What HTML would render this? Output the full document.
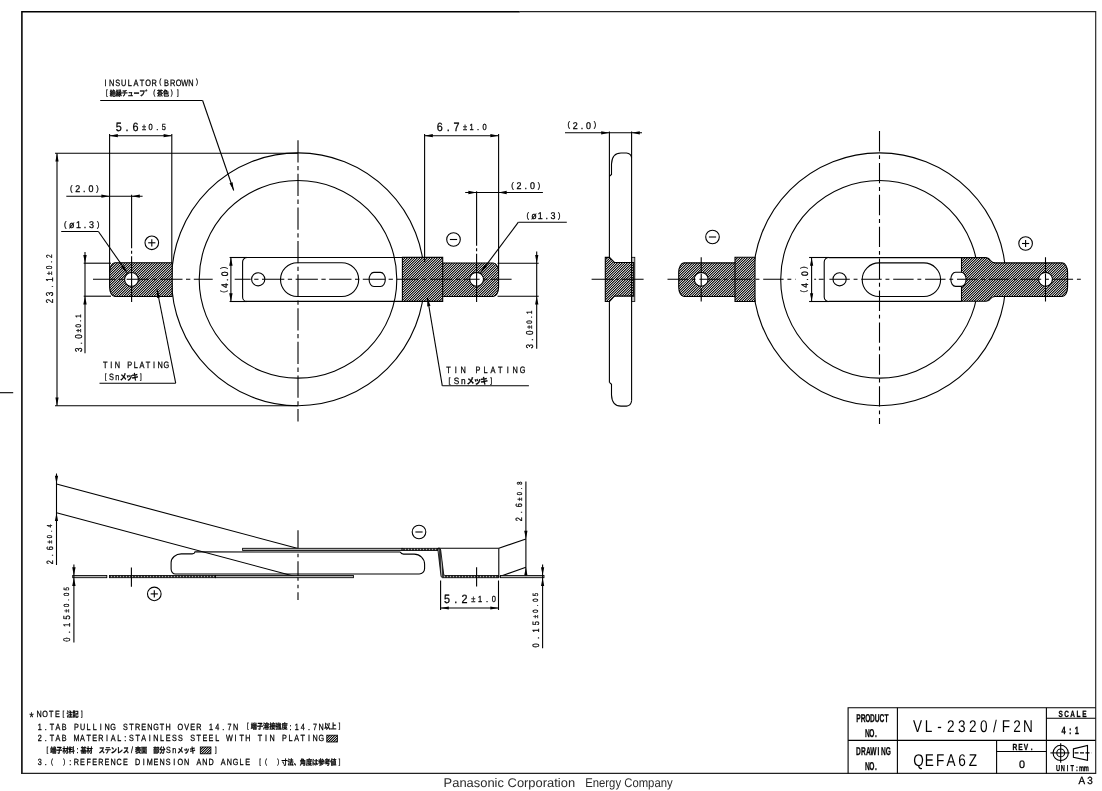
<!DOCTYPE html>
<html lang="ja"><head><meta charset="utf-8"><title>VL-2320/F2N</title>
<style>
html,body{margin:0;padding:0;background:#fff}
body{width:1102px;height:791px;overflow:hidden;font-family:"Liberation Sans","Noto Sans CJK JP",sans-serif}
svg{display:block;will-change:transform}
svg line,svg path,svg circle,svg rect,svg polyline{stroke:#000;stroke-width:1.1;fill:none}
svg .ar{stroke:none;fill:#000}
svg text{font-family:"Liberation Sans","Noto Sans CJK JP",sans-serif;fill:#000;stroke:#000;stroke-width:0.28px;text-anchor:middle;text-rendering:geometricPrecision}
svg text.thin{stroke:none}
svg text.ft{text-anchor:start;fill:#2a2a2a;stroke:none}
svg .h{fill:url(#hatch)}
svg .h2{fill:url(#hatch2)}
</style></head><body>
<svg width="1102" height="791" viewBox="0 0 1102 791">
<defs>
<pattern id="hatch" width="5" height="5" patternUnits="userSpaceOnUse" shape-rendering="crispEdges">
<rect x="0" y="0" width="5" height="5" style="fill:#a6a6a6;stroke:none"/>
<path d="M0,2h1v1h-1zM0,4h1v1h-1zM1,1h1v1h-1zM1,3h1v1h-1zM2,0h1v1h-1zM2,2h1v1h-1zM3,1h1v1h-1zM3,4h1v1h-1zM4,0h1v1h-1zM4,3h1v1h-1z" style="fill:#161616;stroke:none"/>
<path d="M0,3h1v1h-1zM1,2h1v1h-1zM2,1h1v1h-1zM3,0h1v1h-1zM4,4h1v1h-1z" style="fill:#e0e0e0;stroke:none"/>
<path d="M0,0h1v1h-1zM1,4h1v1h-1zM2,3h1v1h-1zM3,2h1v1h-1zM4,1h1v1h-1z" style="fill:#7c7c7c;stroke:none"/>
</pattern>
<pattern id="hatch2" width="3" height="3" patternUnits="userSpaceOnUse" shape-rendering="crispEdges">
<rect x="0" y="0" width="3" height="3" style="fill:#3a3a3a;stroke:none"/>
<rect x="0" y="0" width="1" height="3" style="fill:#b0b0b0;stroke:none"/>
</pattern>
</defs>
<path d="M21.9,774 L21.9,11.65 L519.8,11.65" style="stroke-width:1.55"/>
<path d="M519.8,11.65 L1095.7,11.65 L1095.7,773.4 L21.2,773.4" style="stroke-width:1.15;stroke:#222"/>
<line x1="0.0" y1="392.7" x2="13.2" y2="392.7"/>
<circle cx="298.0" cy="279.3" r="126.4"/>
<circle cx="298.0" cy="279.3" r="98.8"/>
<path d="M172.2,262.8 L115,262.8 A5.4,9.4 0 0 0 109.6,272.2 L109.6,287.1 A5.4,9.4 0 0 0 115,296.5 L172.2,296.5 Z" class="h"/>
<circle cx="131.5" cy="279.4" r="6.9" style="fill:#fff"/>
<path d="M442.7,257.5 L247.1,257.5 A4.5,4.5 0 0 0 242.6,262.1 L242.6,296.9 A4.5,4.5 0 0 0 247.1,301.4 L442.7,301.4"/>
<circle cx="258.2" cy="279.3" r="6.6"/>
<rect x="280.5" y="262.7" width="78.2" height="33.8" rx="16.9"/>
<rect x="369.1" y="272.4" width="16.2" height="14.1" rx="4.8" ry="7.05"/>
<path d="M402.4,257.4 L442.7,257.4 L442.7,263 L493.2,263 A5.4,9.4 0 0 1 498.6,272.4 L498.6,287.1 A5.4,9.4 0 0 1 493.2,296.5 L442.7,296.5 L442.7,301.4 L402.4,301.4 Z" class="h"/>
<line x1="442.7" y1="263.0" x2="442.7" y2="296.5"/>
<circle cx="476.6" cy="279.3" r="6.9" style="fill:#fff"/>
<line x1="298.0" y1="140.2" x2="298.0" y2="421.5" stroke-dasharray="22.3 3.5 4.3 3.5"/>
<line x1="93.0" y1="279.3" x2="212.7" y2="279.3" stroke-dasharray="22.3 3.5 4.3 3.5"/>
<line x1="234.7" y1="279.3" x2="511.6" y2="279.3" stroke-dasharray="16 3.5 4.3 3.5 22.3 3.5 4.3 3.5 22.3 3.5 4.3 3.5 22.3 3.5 4.3 3.5 22.3 3.5 4.3 3.5 22.3 3.5 4.3 3.5 22.3 3.5 4.3 3.5"/>
<line x1="131.6" y1="194.8" x2="131.6" y2="302.0" stroke-dasharray="53.5 2.5 3 2.5 60"/>
<line x1="476.6" y1="191.2" x2="476.6" y2="302.0" stroke-dasharray="54.5 2.5 3 2.5 60"/>
<line x1="109.6" y1="134.0" x2="109.6" y2="272.0"/>
<line x1="171.8" y1="134.0" x2="171.8" y2="262.8"/>
<line x1="109.6" y1="135.7" x2="171.8" y2="135.7"/>
<polygon class="ar" points="109.6,135.7 117.8,134.0 117.8,137.3"/>
<polygon class="ar" points="171.8,135.7 163.6,137.3 163.6,134.0"/>
<text transform="translate(114.5,130.7) scale(0.9,1)"><tspan font-size="12.00" x="4.67 14.00 23.33" y="0.00">5.6</tspan></text>
<text transform="translate(140.7,129.7) scale(0.84,1)"><tspan font-size="8.90" x="3.93 11.79 19.64 27.50" y="0.00">±0.5</tspan></text>
<line x1="424.6" y1="134.0" x2="424.6" y2="262.0"/>
<line x1="498.6" y1="134.0" x2="498.6" y2="272.0"/>
<line x1="424.6" y1="135.7" x2="498.6" y2="135.7"/>
<polygon class="ar" points="424.6,135.7 432.8,134.0 432.8,137.3"/>
<polygon class="ar" points="498.6,135.7 490.4,137.3 490.4,134.0"/>
<text transform="translate(435.6,130.8) scale(0.9,1)"><tspan font-size="12.00" x="4.67 14.00 23.33" y="0.00">6.7</tspan></text>
<text transform="translate(461.8,129.8) scale(0.84,1)"><tspan font-size="8.90" x="3.87 11.61 19.35 27.08" y="0.00">±1.0</tspan></text>
<line x1="55.0" y1="153.2" x2="298.0" y2="153.2"/>
<line x1="55.0" y1="405.7" x2="298.0" y2="405.7"/>
<line x1="57.0" y1="153.2" x2="57.0" y2="405.7"/>
<polygon class="ar" points="57.0,153.2 58.6,161.4 55.4,161.4"/>
<polygon class="ar" points="57.0,405.7 55.4,397.5 58.6,397.5"/>
<text transform="translate(52.7,304.7) rotate(-90) scale(0.8,1)"><tspan font-size="10.14" x="4.50 13.50 22.50 31.50" y="0.00">23.1</tspan></text>
<text transform="translate(52.1,275.9) rotate(-90) scale(0.78,1)"><tspan font-size="8.29" x="3.59 10.77 17.95 25.13" y="0.00">±0.2</tspan></text>
<line x1="66.3" y1="196.2" x2="142.6" y2="196.2"/>
<polygon class="ar" points="109.6,196.2 101.4,197.8 101.4,194.5"/>
<polygon class="ar" points="131.6,196.2 139.8,194.5 139.8,197.8"/>
<text transform="translate(67.9,192.2) scale(0.92,1)"><tspan font-size="7.95" x="3.58" y="-1.26">(</tspan><tspan font-size="9.70" x="10.73 17.88 25.03" y="0.00">2.0</tspan><tspan font-size="7.95" x="32.18" y="-1.26">)</tspan></text>
<line x1="465.2" y1="192.5" x2="542.9" y2="192.5"/>
<polygon class="ar" points="476.6,192.5 468.4,194.2 468.4,190.8"/>
<polygon class="ar" points="498.5,192.5 506.7,190.8 506.7,194.2"/>
<text transform="translate(509.1,189.0) scale(0.92,1)"><tspan font-size="7.95" x="3.62" y="-1.26">(</tspan><tspan font-size="9.70" x="10.86 18.10 25.34" y="0.00">2.0</tspan><tspan font-size="7.95" x="32.58" y="-1.26">)</tspan></text>
<text transform="translate(61.9,228.1) scale(0.92,1)"><tspan font-size="7.95" x="3.58" y="-1.26">(</tspan><tspan font-size="9.70" x="10.74 17.91 25.07 32.23" y="0.00">ø1.3</tspan><tspan font-size="7.95" x="39.40" y="-1.26">)</tspan></text>
<line x1="61.2" y1="231.5" x2="98.4" y2="231.5"/>
<line x1="98.4" y1="231.5" x2="127.3" y2="272.8"/>
<polygon class="ar" points="127.3,272.8 121.1,267.2 123.7,265.2"/>
<text transform="translate(524.5,218.9) scale(0.92,1)"><tspan font-size="7.95" x="3.44" y="-1.26">(</tspan><tspan font-size="9.70" x="10.32 17.20 24.08 30.96" y="0.00">ø1.3</tspan><tspan font-size="7.95" x="37.84" y="-1.26">)</tspan></text>
<line x1="518.4" y1="222.2" x2="566.8" y2="222.2"/>
<line x1="518.4" y1="222.2" x2="480.8" y2="272.4"/>
<polygon class="ar" points="480.8,272.4 484.4,264.8 487.0,266.8"/>
<line x1="83.7" y1="263.2" x2="111.0" y2="263.2"/>
<line x1="83.7" y1="296.2" x2="111.0" y2="296.2"/>
<line x1="85.0" y1="252.0" x2="85.0" y2="353.2"/>
<polygon class="ar" points="85.0,263.2 83.3,255.0 86.7,255.0"/>
<polygon class="ar" points="85.0,296.2 86.7,304.4 83.3,304.4"/>
<text transform="translate(81.5,353.2) rotate(-90) scale(0.8,1)"><tspan font-size="10.00" x="4.19 12.56 20.94" y="0.00">3.0</tspan></text>
<text transform="translate(80.8,333.1) rotate(-90) scale(0.78,1)"><tspan font-size="7.86" x="3.14 9.42 15.71 21.99" y="0.00">±0.1</tspan></text>
<line x1="497.5" y1="263.2" x2="538.7" y2="263.2"/>
<line x1="497.5" y1="296.2" x2="538.7" y2="296.2"/>
<line x1="536.7" y1="251.5" x2="536.7" y2="348.7"/>
<polygon class="ar" points="536.7,263.2 535.1,255.0 538.4,255.0"/>
<polygon class="ar" points="536.7,296.2 538.4,304.4 535.1,304.4"/>
<text transform="translate(533.0,349.6) rotate(-90) scale(0.8,1)"><tspan font-size="10.00" x="4.19 12.56 20.94" y="0.00">3.0</tspan></text>
<text transform="translate(532.2,329.4) rotate(-90) scale(0.78,1)"><tspan font-size="7.86" x="3.14 9.42 15.71 21.99" y="0.00">±0.1</tspan></text>
<line x1="229.6" y1="257.5" x2="247.0" y2="257.5"/>
<line x1="229.6" y1="301.5" x2="247.0" y2="301.5"/>
<line x1="230.9" y1="257.5" x2="230.9" y2="301.5"/>
<polygon class="ar" points="230.9,257.5 232.6,265.7 229.2,265.7"/>
<polygon class="ar" points="230.9,301.5 229.2,293.3 232.6,293.3"/>
<text transform="translate(227.7,294.6) rotate(-90) scale(0.9,1)"><tspan font-size="7.79" x="3.30" y="-1.24">(</tspan><tspan font-size="9.50" x="9.90 16.50 23.10" y="0.00">4.0</tspan><tspan font-size="7.79" x="29.70" y="-1.24">)</tspan></text>
<circle cx="151.8" cy="242.8" r="6.8"/>
<line x1="148.2" y1="242.8" x2="155.4" y2="242.8"/>
<line x1="151.8" y1="239.2" x2="151.8" y2="246.4"/>
<circle cx="453.5" cy="239.5" r="6.8"/>
<line x1="449.9" y1="239.5" x2="457.1" y2="239.5"/>
<text transform="translate(102.4,85.5) scale(0.8,1)"><tspan font-size="9.20" x="3.81 11.44 19.06 26.69 34.31 41.94 49.56 57.19 64.81" y="0.00">INSULATOR</tspan><tspan font-size="7.54" x="72.44" y="-1.20">(</tspan><tspan font-size="9.20" x="80.06 87.69 95.31 102.94 110.56" y="0.00">BROWN</tspan><tspan font-size="7.54" x="118.19" y="-1.20">)</tspan></text>
<text transform="translate(104.0,96.6) scale(0.8,1)"><tspan font-size="7.54" x="3.69" y="-1.20">[</tspan><tspan font-size="7.54" font-weight="700" x="11.06 18.44 25.81 33.19 40.56 47.94 55.31" y="-0.35">絶縁チューフ゛</tspan><tspan font-size="7.54" x="62.69" y="-1.20">(</tspan><tspan font-size="7.54" font-weight="700" x="70.06 77.44" y="-0.35">茶色</tspan><tspan font-size="7.54" x="84.81 92.19" y="-1.20">)]</tspan></text>
<line x1="100.2" y1="100.5" x2="202.6" y2="100.5"/>
<line x1="202.6" y1="100.5" x2="233.7" y2="190.5"/>
<polygon class="ar" points="233.7,190.5 229.5,183.3 232.6,182.2"/>
<text transform="translate(102.2,368.2) scale(0.8,1)"><tspan font-size="9.20" x="3.81 11.44 19.06 26.69 34.31 41.94 49.56 57.19 64.81 72.44 80.06" y="0.00">TIN PLATING</tspan></text>
<text transform="translate(102.7,380.1) scale(0.8,1)"><tspan font-size="7.54" x="3.67" y="-1.20">[</tspan><tspan font-size="9.20" x="11.03 18.37" y="0.00">Sn</tspan><tspan font-size="8.74" font-weight="700" x="25.73 33.07 40.42" y="-0.35">メッキ</tspan><tspan font-size="7.54" x="47.77" y="-1.20">]</tspan></text>
<line x1="99.5" y1="383.2" x2="175.7" y2="383.2"/>
<line x1="175.7" y1="383.2" x2="157.0" y2="289.5"/>
<polygon class="ar" points="157.0,289.5 160.2,297.2 157.0,297.9"/>
<text transform="translate(444.7,372.8) scale(0.8,1)"><tspan font-size="9.20" x="4.63 13.89 23.16 32.42 41.68 50.94 60.21 69.47 78.73 87.99 97.26" y="0.00">TIN PLATING</tspan></text>
<text transform="translate(446.0,384.1) scale(0.9,1)"><tspan font-size="7.54" x="3.87" y="-1.20">[</tspan><tspan font-size="9.20" x="11.60 19.33" y="0.00">Sn</tspan><tspan font-size="8.74" font-weight="700" x="27.07 34.80 42.53" y="-0.35">メッキ</tspan><tspan font-size="7.54" x="50.27" y="-1.20">]</tspan></text>
<line x1="442.3" y1="385.8" x2="528.9" y2="385.8"/>
<line x1="442.3" y1="385.8" x2="427.5" y2="298.0"/>
<polygon class="ar" points="427.5,298.0 430.5,305.8 427.2,306.4"/>
<line x1="609.4" y1="131.5" x2="609.4" y2="382.4"/>
<line x1="631.6" y1="131.5" x2="631.6" y2="400.7"/>
<path d="M609.4,176.2 L611.5,174.5 L611.5,164 Q612,153 621,153 L626.5,153 Q631,153.5 631.6,157.6"/>
<path d="M609.4,382.4 L611.5,384.3 L611.5,395 Q612,406.1 621,406.1 L626.5,406.1 Q631,405.6 631.6,400.7"/>
<rect x="631.6" y="257.3" width="3.2" height="44.2" style="stroke-width:0.8;fill:#c4c4c4"/>
<path d="M605.3,257.4 L609.5,257.4 L614.4,262.5 L633.7,262.5 L633.7,296.1 L614.4,296.1 L609.5,301.5 L605.3,301.5 Z" class="h"/>
<line x1="631.6" y1="257.3" x2="631.6" y2="301.5"/>
<line x1="591.6" y1="279.3" x2="645.2" y2="279.3" stroke-dasharray="22 2.5 3 2.5"/>
<line x1="565.0" y1="132.8" x2="609.4" y2="132.8"/>
<polygon class="ar" points="609.4,132.8 601.2,134.5 601.2,131.2"/>
<line x1="609.4" y1="132.8" x2="642.0" y2="132.8"/>
<polygon class="ar" points="631.6,132.8 639.8,131.2 639.8,134.5"/>
<text transform="translate(565.4,128.7) scale(0.92,1)"><tspan font-size="7.95" x="3.59" y="-1.26">(</tspan><tspan font-size="9.70" x="10.76 17.93 25.11" y="0.00">2.0</tspan><tspan font-size="7.95" x="32.28" y="-1.26">)</tspan></text>
<circle cx="879.5" cy="279.3" r="126.4"/>
<circle cx="879.5" cy="279.3" r="98.8"/>
<path d="M755,257.3 L735,257.3 L735,262.9 L684.1,262.9 A5.4,9.4 0 0 0 678.7,272.3 L678.7,287.1 A5.4,9.4 0 0 0 684.1,296.5 L735,296.5 L735,301.5 L755,301.5 Z" class="h"/>
<line x1="735.0" y1="262.7" x2="735.0" y2="296.5"/>
<circle cx="701.2" cy="279.3" r="6.9" style="fill:#fff"/>
<line x1="701.2" y1="257.2" x2="701.2" y2="301.5" stroke-dasharray="14.9 1.4 13.5 1.1 13.5"/>
<circle cx="712.5" cy="237.0" r="6.8"/>
<line x1="708.9" y1="237.0" x2="716.1" y2="237.0"/>
<path d="M961.5,257.6 L829.3,257.6 A4.5,4.5 0 0 0 824.2,262.1 L824.2,296.9 A4.5,4.5 0 0 0 829.3,301.4 L961.5,301.4"/>
<circle cx="839.6" cy="279.3" r="6.6"/>
<rect x="862.2" y="262.9" width="78.4" height="33.6" rx="16.8"/>
<path d="M961.5,257.6 L986,257.6 Q989,257.8 990.5,260.5 Q992,262.9 995,262.9 L1062.2,262.9 A5.4,9.4 0 0 1 1067.6,272.3 L1067.6,287.1 A5.4,9.4 0 0 1 1062.2,296.5 L995,296.5 Q992,296.5 990.5,298.8 Q989,301.3 986,301.3 L961.5,301.3 Z" class="h"/>
<rect x="950.8" y="272.3" width="15.3" height="14.1" rx="4.8" ry="7.05" style="fill:#fff"/>
<circle cx="1045.5" cy="279.3" r="6.9" style="fill:#fff"/>
<line x1="1045.5" y1="257.2" x2="1045.5" y2="301.5" stroke-dasharray="14.9 1.4 13.5 1.1 13.5"/>
<circle cx="1025.6" cy="243.5" r="6.8"/>
<line x1="1022.0" y1="243.5" x2="1029.2" y2="243.5"/>
<line x1="1025.6" y1="239.9" x2="1025.6" y2="247.1"/>
<line x1="879.5" y1="131.0" x2="879.5" y2="424.0" stroke-dasharray="20.4 3.8 3.9 3.8"/>
<line x1="667.5" y1="279.3" x2="795.6" y2="279.3" stroke-dasharray="20.4 3.8 3.9 3.8"/>
<line x1="814.2" y1="279.3" x2="1081.4" y2="279.3" stroke-dasharray="1.9 2.7 4.9 5.7 20.4 3.8 3.9 3.8 20.4 3.8 3.9 3.8 20.4 3.8 3.9 3.8 20.4 3.8 3.9 3.8 20.4 3.8 3.9 3.8 20.4 3.8 3.9 3.8 20.4 3.8 3.9 3.8 20.4 3.8 3.9 3.8 20.4 3.8 3.9 3.8 20.4 3.8 3.9 3.8"/>
<line x1="809.1" y1="257.5" x2="829.0" y2="257.5"/>
<line x1="809.1" y1="301.5" x2="829.0" y2="301.5"/>
<line x1="811.6" y1="257.5" x2="811.6" y2="301.5"/>
<polygon class="ar" points="811.6,257.5 813.2,265.7 810.0,265.7"/>
<polygon class="ar" points="811.6,301.5 810.0,293.3 813.2,293.3"/>
<text transform="translate(807.5,294.4) rotate(-90) scale(0.9,1)"><tspan font-size="7.79" x="3.30" y="-1.24">(</tspan><tspan font-size="9.50" x="9.90 16.50 23.10" y="0.00">4.0</tspan><tspan font-size="7.79" x="29.70" y="-1.24">)</tspan></text>
<line x1="298.0" y1="530.2" x2="298.0" y2="600.0" stroke-dasharray="19.5 4 3.5 4"/>
<line x1="56.5" y1="484.0" x2="298.0" y2="548.5"/>
<line x1="56.5" y1="512.7" x2="298.0" y2="577.2"/>
<line x1="56.5" y1="473.5" x2="56.5" y2="565.0"/>
<polygon class="ar" points="56.5,484.0 54.9,475.8 58.1,475.8"/>
<polygon class="ar" points="56.5,512.7 58.1,520.9 54.9,520.9"/>
<text transform="translate(52.9,565.7) rotate(-90) scale(0.8,1)"><tspan font-size="9.14" x="4.38 13.12 21.88" y="0.00">2.6</tspan></text>
<text transform="translate(52.2,544.7) rotate(-90) scale(0.78,1)"><tspan font-size="7.29" x="3.43 10.29 17.15 24.01" y="0.00">±0.4</tspan></text>
<path d="M400.3,552 L195,551.9 Q194.6,553.9 192.2,553.9 L181.3,553.9 A10.2,8.8 0 0 0 171.1,562.7 L171.1,569 A4.3,5 0 0 0 175.4,574 L419.3,574 A5.3,5.6 0 0 0 424.6,568.4 L424.6,564.2 A10.4,10.1 0 0 0 414.2,554.1 L403.5,554.1 Q401.2,553.9 400.3,552"/>
<rect x="242.6" y="548.3" width="159.5" height="2.2" style="stroke-width:0.85;fill:#b4b4b4"/>
<rect x="402.1" y="548.3" width="36" height="2.2" class="h2" style="stroke-width:0.85"/>
<path d="M438,548.3 L439.6,548.3 Q440.5,548.6 440.7,550 L443.7,574.3 Q444,575.4 445,575.5 L498.8,575.5 L498.8,577.7 L442.5,577.7 Q441.2,577.4 441,576 L438,550.5 Z" class="h2" style="stroke-width:0.85"/>
<line x1="438.0" y1="548.3" x2="498.8" y2="548.3"/>
<line x1="498.8" y1="548.3" x2="498.8" y2="577.7"/>
<line x1="498.8" y1="548.3" x2="525.9" y2="539.0"/>
<line x1="500.5" y1="576.3" x2="525.9" y2="567.2"/>
<line x1="525.9" y1="481.5" x2="525.9" y2="577.8"/>
<polygon class="ar" points="525.9,539.0 524.2,530.8 527.5,530.8"/>
<polygon class="ar" points="525.9,567.2 527.5,575.4 524.2,575.4"/>
<text transform="translate(522.2,522.8) rotate(-90) scale(0.8,1)"><tspan font-size="9.14" x="4.38 13.12 21.88" y="0.00">2.6</tspan></text>
<text transform="translate(521.6,501.8) rotate(-90) scale(0.78,1)"><tspan font-size="7.29" x="3.43 10.29 17.15 24.01" y="0.00">±0.8</tspan></text>
<rect x="500.5" y="575.5" width="43.5" height="2.2" style="stroke-width:0.85;fill:#b4b4b4"/>
<line x1="542.6" y1="564.6" x2="542.6" y2="648.3"/>
<polygon class="ar" points="542.6,575.5 541.0,567.3 544.2,567.3"/>
<polygon class="ar" points="542.6,577.7 544.2,585.9 541.0,585.9"/>
<text transform="translate(538.6,649.0) rotate(-90) scale(0.8,1)"><tspan font-size="9.29" x="4.62 13.88 23.12 32.38" y="0.00">0.15</tspan></text>
<text transform="translate(538.0,619.4) rotate(-90) scale(0.78,1)"><tspan font-size="7.57" x="3.53 10.58 17.63 24.68 31.73" y="0.00">±0.05</tspan></text>
<rect x="72.7" y="575.5" width="34.1" height="2.2" style="stroke-width:0.85;fill:#b4b4b4"/>
<rect x="109.5" y="575.5" width="106" height="2.2" class="h2" style="stroke-width:0.85"/>
<rect x="215.5" y="575.5" width="137.9" height="2.2" style="stroke-width:0.85;fill:#b4b4b4"/>
<line x1="131.4" y1="567.5" x2="131.4" y2="586.8"/>
<line x1="476.6" y1="567.3" x2="476.6" y2="586.6"/>
<line x1="73.9" y1="564.5" x2="73.9" y2="642.5"/>
<polygon class="ar" points="73.9,575.5 72.2,567.3 75.6,567.3"/>
<polygon class="ar" points="73.9,577.7 75.6,585.9 72.2,585.9"/>
<text transform="translate(69.7,643.3) rotate(-90) scale(0.8,1)"><tspan font-size="9.57" x="4.62 13.88 23.12 32.38" y="0.00">0.15</tspan></text>
<text transform="translate(69.0,613.7) rotate(-90) scale(0.78,1)"><tspan font-size="7.57" x="3.53 10.58 17.63 24.68 31.73" y="0.00">±0.05</tspan></text>
<circle cx="154.3" cy="593.9" r="6.8"/>
<line x1="150.7" y1="593.9" x2="157.9" y2="593.9"/>
<line x1="154.3" y1="590.3" x2="154.3" y2="597.5"/>
<circle cx="419.0" cy="532.0" r="6.8"/>
<line x1="415.4" y1="532.0" x2="422.6" y2="532.0"/>
<line x1="440.6" y1="580.5" x2="440.6" y2="610.0"/>
<line x1="498.5" y1="580.5" x2="498.5" y2="610.0"/>
<line x1="440.6" y1="608.0" x2="498.5" y2="608.0"/>
<polygon class="ar" points="440.6,608.0 448.8,606.4 448.8,609.6"/>
<polygon class="ar" points="498.5,608.0 490.3,609.6 490.3,606.4"/>
<text transform="translate(442.7,602.8) scale(0.9,1)"><tspan font-size="12.00" x="4.83 14.50 24.17" y="0.00">5.2</tspan></text>
<text transform="translate(469.8,601.8) scale(0.84,1)"><tspan font-size="8.90" x="4.08 12.23 20.39 28.54" y="0.00">±1.0</tspan></text>
<text transform="translate(28.6,721.7) scale(0.75,1)" fill="#335"><tspan font-size="14.00" x="4.07" y="0.00">*</tspan></text>
<text transform="translate(36.0,717.4) scale(0.8,1)"><tspan font-size="9.00" x="3.81 11.44 19.06 26.69" y="0.00">NOTE</tspan><tspan font-size="7.38" x="34.31" y="-1.17">[</tspan><tspan font-size="7.65" font-weight="700" x="41.94 49.56" y="-0.35">注記</tspan><tspan font-size="7.38" x="57.19" y="-1.17">]</tspan></text>
<text transform="translate(36.6,729.6) scale(0.8,1)"><tspan font-size="9.00" x="3.82 11.47 19.12 26.77 34.42 42.08 49.73 57.37 65.02 72.67 80.32 87.97 95.62 103.28 110.93 118.58 126.23 133.88 141.53 149.18 156.83 164.48 172.13 179.78 187.43 195.08 202.73 210.38 218.03 225.68 233.33 240.98 248.63 256.28" y="0.00">1.TAB PULLING STRENGTH OVER 14.7N </tspan><tspan font-size="7.38" x="263.93" y="-1.17">[</tspan><tspan font-size="7.65" font-weight="700" x="271.58 279.23 286.88 294.53 302.18 309.83" y="-0.35">端子溶接強度</tspan><tspan font-size="9.00" x="317.48 325.13 332.78 340.43 348.08 355.73" y="0.00">:14.7N</tspan><tspan font-size="7.65" font-weight="700" x="363.38 371.03" y="-0.35">以上</tspan><tspan font-size="7.38" x="378.68" y="-1.17">]</tspan></text>
<text transform="translate(36.6,741.3) scale(0.8,1)"><tspan font-size="9.00" x="3.82 11.47 19.12 26.77 34.42 42.08 49.73 57.37 65.02 72.67 80.32 87.97 95.62 103.28 110.93 118.58 126.23 133.88 141.53 149.18 156.83 164.48 172.13 179.78 187.43 195.08 202.73 210.38 218.03 225.68 233.33 240.98 248.63 256.28 263.93 271.58 279.23 286.88 294.53 302.18 309.83 317.48 325.13 332.78 340.43 348.08 355.73" y="0.00">2.TAB MATERIAL:STAINLESS STEEL WITH TIN PLATING</tspan></text>
<rect x="326.8" y="735.2" width="10.6" height="6.8" class="h" style="stroke-width:0.85"/>
<text transform="translate(44.3,753.0) scale(0.8,1)"><tspan font-size="7.38" x="3.78" y="-1.17">[</tspan><tspan font-size="7.65" font-weight="700" x="11.34 18.91 26.47 34.03" y="-0.35">端子材料</tspan><tspan font-size="9.00" x="41.59" y="0.00">:</tspan><tspan font-size="7.65" font-weight="700" x="49.16 56.72" y="-0.35">基材</tspan><tspan font-size="9.00" x="64.28" y="0.00"> </tspan><tspan font-size="7.65" font-weight="700" x="71.84 79.41 86.97 94.53 102.09" y="-0.35">ステンレス</tspan><tspan font-size="9.00" x="109.66" y="0.00">/</tspan><tspan font-size="7.65" font-weight="700" x="117.22 124.78" y="-0.35">表面</tspan><tspan font-size="9.00" x="132.34" y="0.00"> </tspan><tspan font-size="7.65" font-weight="700" x="139.91 147.47" y="-0.35">部分</tspan><tspan font-size="9.00" x="155.03 162.59" y="0.00">Sn</tspan><tspan font-size="7.65" font-weight="700" x="170.16 177.72 185.28" y="-0.35">メッキ</tspan></text>
<rect x="200.3" y="747" width="10.6" height="6.8" class="h" style="stroke-width:0.85"/>
<text transform="translate(213.0,753.0) scale(0.8,1)"><tspan font-size="7.38" x="3.52" y="-1.17">]</tspan></text>
<text transform="translate(36.6,764.9) scale(0.8,1)"><tspan font-size="9.00" x="3.82 11.47" y="0.00">3.</tspan><tspan font-size="7.38" x="19.12" y="-1.17">(</tspan><tspan font-size="9.00" x="26.77" y="0.00"> </tspan><tspan font-size="7.38" x="34.42" y="-1.17">)</tspan><tspan font-size="9.00" x="42.08 49.73 57.37 65.02 72.67 80.32 87.97 95.62 103.28 110.93 118.58 126.23 133.88 141.53 149.18 156.83 164.48 172.13 179.78 187.43 195.08 202.73 210.38 218.03 225.68 233.33 240.98 248.63 256.28 263.93 271.58" y="0.00">:REFERENCE DIMENSION AND ANGLE </tspan><tspan font-size="7.38" x="279.23 286.88" y="-1.17">[(</tspan><tspan font-size="9.00" x="294.53" y="0.00"> </tspan><tspan font-size="7.38" x="302.18" y="-1.17">)</tspan><tspan font-size="7.65" font-weight="700" x="309.83 317.48 325.13 332.78 340.43 348.08 355.73 363.38 371.03" y="-0.35">寸法、角度は参考値</tspan><tspan font-size="7.38" x="378.68" y="-1.17">]</tspan></text>
<path d="M1095.6,707.8 L848.1,707.8 L848.1,773.4"/>
<line x1="897.4" y1="707.8" x2="897.4" y2="773.4"/>
<line x1="1046.4" y1="707.8" x2="1046.4" y2="773.4"/>
<line x1="848.1" y1="740.4" x2="1095.6" y2="740.4"/>
<line x1="996.6" y1="740.4" x2="996.6" y2="773.4"/>
<line x1="996.6" y1="751.5" x2="1046.4" y2="751.5"/>
<line x1="1046.4" y1="718.2" x2="1095.6" y2="718.2"/>
<text transform="translate(856.2,721.5) scale(0.58,1)" font-weight="bold"><tspan font-size="11.40" x="4.01 12.03 20.04 28.06 36.08 44.09 52.11" y="0.00">PRODUCT</tspan></text>
<text transform="translate(865.3,736.8) scale(0.58,1)" font-weight="bold"><tspan font-size="11.40" x="3.71 11.12 18.53" y="0.00">NO.</tspan></text>
<text transform="translate(855.9,754.8) scale(0.58,1)" font-weight="bold"><tspan font-size="11.40" x="4.31 12.93 21.55 30.17 38.79 47.41 56.03" y="0.00">DRAWING</tspan></text>
<text transform="translate(865.3,769.7) scale(0.58,1)" font-weight="bold"><tspan font-size="11.40" x="3.71 11.12 18.53" y="0.00">NO.</tspan></text>
<text transform="translate(912.0,731.7) scale(0.8,1)" fill="#111" class="thin"><tspan font-size="17.00" x="6.91 20.72 34.53 48.34 62.16 75.97 89.78 103.59 117.41 131.22 145.03" y="0.00">VL-2320/F2N</tspan></text>
<text transform="translate(913.0,765.5) scale(0.8,1)" fill="#111" class="thin"><tspan font-size="17.00" x="6.81 20.44 34.06 47.69 61.31 74.94" y="0.00">QEFA6Z</tspan></text>
<text transform="translate(1012.0,749.8) scale(0.75,1)" font-weight="bold"><tspan font-size="8.80" x="3.73 11.20 18.67 26.13" y="0.00">REV.</tspan></text>
<text transform="translate(1018.9,767.5) scale(1.0,1)"><tspan font-size="10.80" x="3.00" y="0.00">0</tspan></text>
<text transform="translate(1057.8,716.8) scale(0.72,1)" font-weight="bold"><tspan font-size="9.00" x="4.10 12.29 20.49 28.68 36.88" y="0.00">SCALE</tspan></text>
<text transform="translate(1060.3,734.2) scale(0.72,1)" font-weight="bold"><tspan font-size="10.40" x="4.58 13.75 22.92" y="0.00">4:1</tspan></text>
<text transform="translate(1055.8,771.2) scale(0.66,1)" font-weight="bold"><tspan font-size="8.60" x="3.56 10.68 17.80 24.92 32.05 39.17 46.29" y="0.00">UNIT:mm</tspan></text>
<text transform="translate(1077.8,783.8) scale(0.95,1)"><tspan font-size="10.40" x="4.32 12.95" y="0.00">A3</tspan></text>
<circle cx="1060.7" cy="752.9" r="7.6"/>
<circle cx="1060.7" cy="752.9" r="3.9"/>
<line x1="1050.4" y1="752.9" x2="1069.6" y2="752.9"/>
<line x1="1060.7" y1="743.2" x2="1060.7" y2="762.7"/>
<path d="M1073.4,748.9 L1087.5,745.5 L1087.5,760.4 L1073.4,757.2 Z"/>
<line x1="1074.5" y1="752.9" x2="1091.2" y2="752.9" stroke-dasharray="4 1.5"/>
<text class="ft" x="443.6" y="786.7" font-size="12.6" textLength="131.5" lengthAdjust="spacingAndGlyphs">Panasonic Corporation</text>
<text class="ft" x="585.2" y="786.7" font-size="12.6" textLength="87.5" lengthAdjust="spacingAndGlyphs">Energy Company</text>
</svg>
</body></html>
